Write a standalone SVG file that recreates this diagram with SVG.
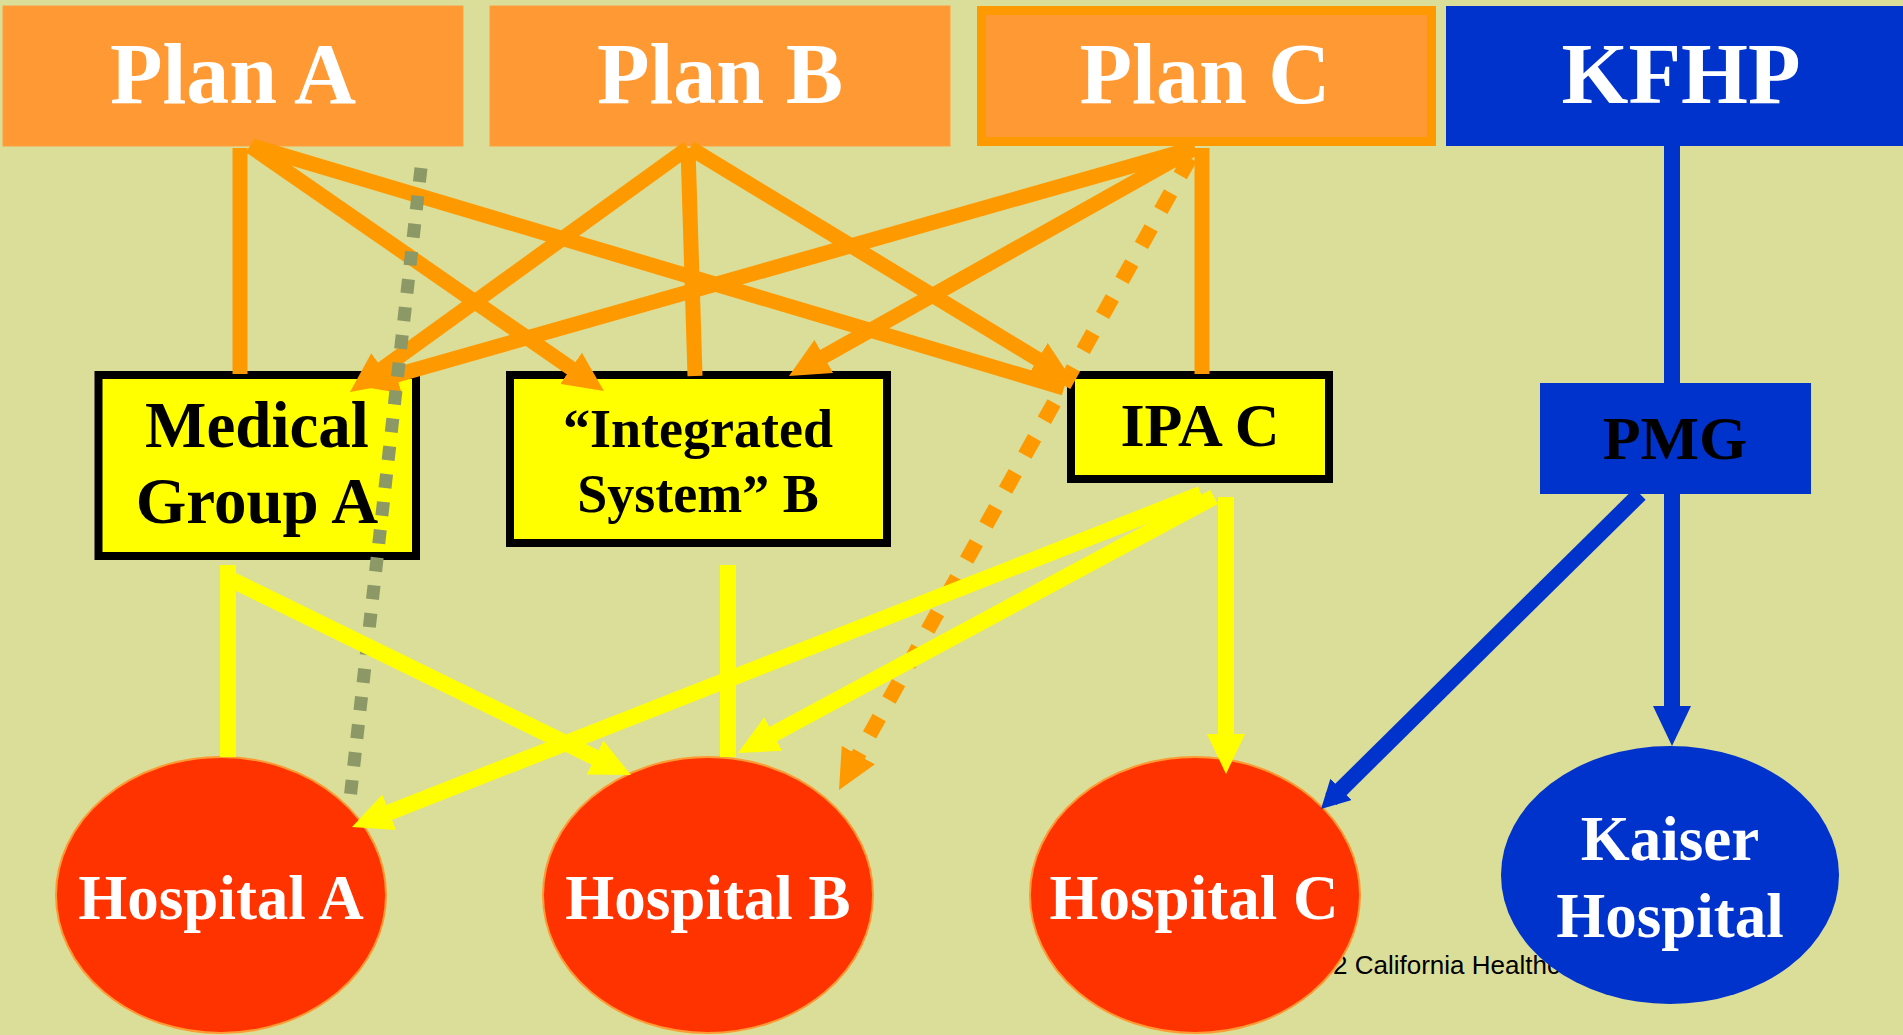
<svg xmlns="http://www.w3.org/2000/svg" width="1903" height="1035" viewBox="0 0 1903 1035">
<style>
.lbl{font-family:"Liberation Serif","Times New Roman",serif;font-weight:bold;text-anchor:middle}
.w{fill:#FFFFFF}
.k{fill:#000000}
.plan{fill:#FF9933}
.sub{fill:#FFFF00;stroke:#000000;stroke-width:8}
.hosp{fill:#FF3300;stroke:#FF9933;stroke-width:2}
.or{stroke:#FF9900;stroke-width:15;fill:none}
.ye{stroke:#FFFF00;stroke-width:16;fill:none}
.bl{stroke:#0033CC;stroke-width:16;fill:none}
</style>
<defs>
<marker id="ao" markerUnits="userSpaceOnUse" markerWidth="40" markerHeight="38" viewBox="0 0 40 38" refX="20" refY="19" orient="auto"><path d="M0,0 L40,19 L0,38 Z" fill="#FF9900"/></marker>
<marker id="ay" markerUnits="userSpaceOnUse" markerWidth="40" markerHeight="38" viewBox="0 0 40 38" refX="20" refY="19" orient="auto"><path d="M0,0 L40,19 L0,38 Z" fill="#FFFF00"/></marker>
<marker id="ab" markerUnits="userSpaceOnUse" markerWidth="40" markerHeight="38" viewBox="0 0 40 38" refX="20" refY="19" orient="auto"><path d="M0,0 L40,19 L0,38 Z" fill="#0033CC"/></marker>
<marker id="ab2" markerUnits="userSpaceOnUse" markerWidth="28" markerHeight="30" viewBox="0 0 28 30" refX="14" refY="15" orient="auto"><path d="M0,0 L28,15 L0,30 Z" fill="#0033CC"/></marker>
</defs>
<rect x="0" y="0" width="1903" height="1035" fill="#DBDE98"/>
<text x="1333" y="974" font-family="'Liberation Sans',Arial,sans-serif" font-size="26" fill="#000000">2 California Healthc</text>

<g id="planA"><rect class="plan" x="3" y="6" width="460" height="140" stroke="#FFA040" stroke-width="1"/><text class="lbl w" x="233" y="103" font-size="86">Plan A</text></g>
<g id="planB"><rect class="plan" x="490" y="6" width="460" height="140" stroke="#FFA040" stroke-width="1"/><text class="lbl w" x="720" y="103" font-size="86">Plan B</text></g>
<g id="planC"><rect class="plan" x="981.5" y="10.5" width="450" height="131" stroke="#FF9900" stroke-width="9"/><text class="lbl w" x="1205" y="103" font-size="86">Plan C</text></g>
<g id="kfhp"><rect x="1446" y="6" width="460" height="140" fill="#0033CC"/><text class="lbl w" x="1681" y="103" font-size="86">KFHP</text></g>

<g id="medA"><rect class="sub" x="98.5" y="375" width="317.5" height="181"/><text class="lbl k" x="257" y="447" font-size="65">Medical</text><text class="lbl k" x="257" y="523" font-size="65">Group A</text></g>
<g id="isB"><rect class="sub" x="510" y="375" width="377" height="168"/><text class="lbl k" x="698" y="447" font-size="54">“Integrated</text><text class="lbl k" x="698" y="512" font-size="54">System” B</text></g>
<g id="ipaC"><rect class="sub" x="1071" y="375" width="258" height="104"/><text class="lbl k" x="1200" y="446" font-size="62">IPA C</text></g>
<g id="pmg"><rect x="1540" y="383" width="271" height="111" fill="#0033CC"/><text class="lbl k" x="1675" y="459" font-size="62">PMG</text></g>

<g id="hospA"><ellipse class="hosp" cx="221" cy="895" rx="165" ry="138"/><text class="lbl w" x="221" y="919" font-size="63">Hospital A</text></g>
<g id="hospB"><ellipse class="hosp" cx="708" cy="895" rx="165" ry="138"/><text class="lbl w" x="708" y="919" font-size="63">Hospital B</text></g>
<g id="hospC"><ellipse class="hosp" cx="1195" cy="895" rx="165" ry="138"/><text class="lbl w" x="1194" y="919" font-size="63">Hospital C</text></g>
<g id="kaiser"><ellipse cx="1670" cy="875" rx="169" ry="129" fill="#0033CC"/><text class="lbl w" x="1670" y="860" font-size="63">Kaiser</text><text class="lbl w" x="1670" y="937" font-size="63">Hospital</text></g>

<g id="connectors">
<line class="or" x1="240" y1="148" x2="240" y2="374"/>
<line class="or" x1="250" y1="146" x2="587.5" y2="379.7" marker-end="url(#ao)"/>
<line class="or" x1="252" y1="146" x2="1064" y2="388"/>
<line class="or" x1="688" y1="148" x2="695" y2="376"/>
<line class="or" x1="688" y1="148" x2="366.2" y2="380.3" marker-end="url(#ao)"/>
<line class="or" x1="690" y1="148" x2="1054.9" y2="369.6" marker-end="url(#ao)"/>
<line class="or" x1="1202" y1="148" x2="1202" y2="374"/>
<line class="or" x1="1195" y1="148" x2="377.2" y2="380.5" marker-end="url(#ao)"/>
<line class="or" x1="1195" y1="148" x2="806.4" y2="366.2" marker-end="url(#ao)"/>
<line class="or" x1="1190" y1="158" x2="848.7" y2="772.5" stroke-dasharray="20 20" marker-end="url(#ao)"/>
<line x1="421" y1="168" x2="349" y2="808" stroke="#8C9966" stroke-width="13" stroke-dasharray="14 14"/>
<line class="ye" x1="228" y1="565" x2="228" y2="757"/>
<line class="ye" x1="232" y1="580" x2="613" y2="766.3" marker-end="url(#ay)"/>
<line class="ye" x1="728" y1="565" x2="728" y2="757"/>
<line class="ye" x1="1201" y1="494" x2="370.6" y2="819.7" marker-end="url(#ay)"/>
<line class="ye" x1="1214" y1="497" x2="755.6" y2="743.5" marker-end="url(#ay)"/>
<line class="ye" x1="1226" y1="497" x2="1226" y2="754" marker-end="url(#ay)"/>
<line class="bl" x1="1672" y1="146" x2="1672" y2="383"/>
<line class="bl" x1="1672" y1="494" x2="1672" y2="726" marker-end="url(#ab)"/>
<line class="bl" x1="1640" y1="494" x2="1331" y2="799.2" stroke-width="12" marker-end="url(#ab2)"/>
</g>
</svg>
